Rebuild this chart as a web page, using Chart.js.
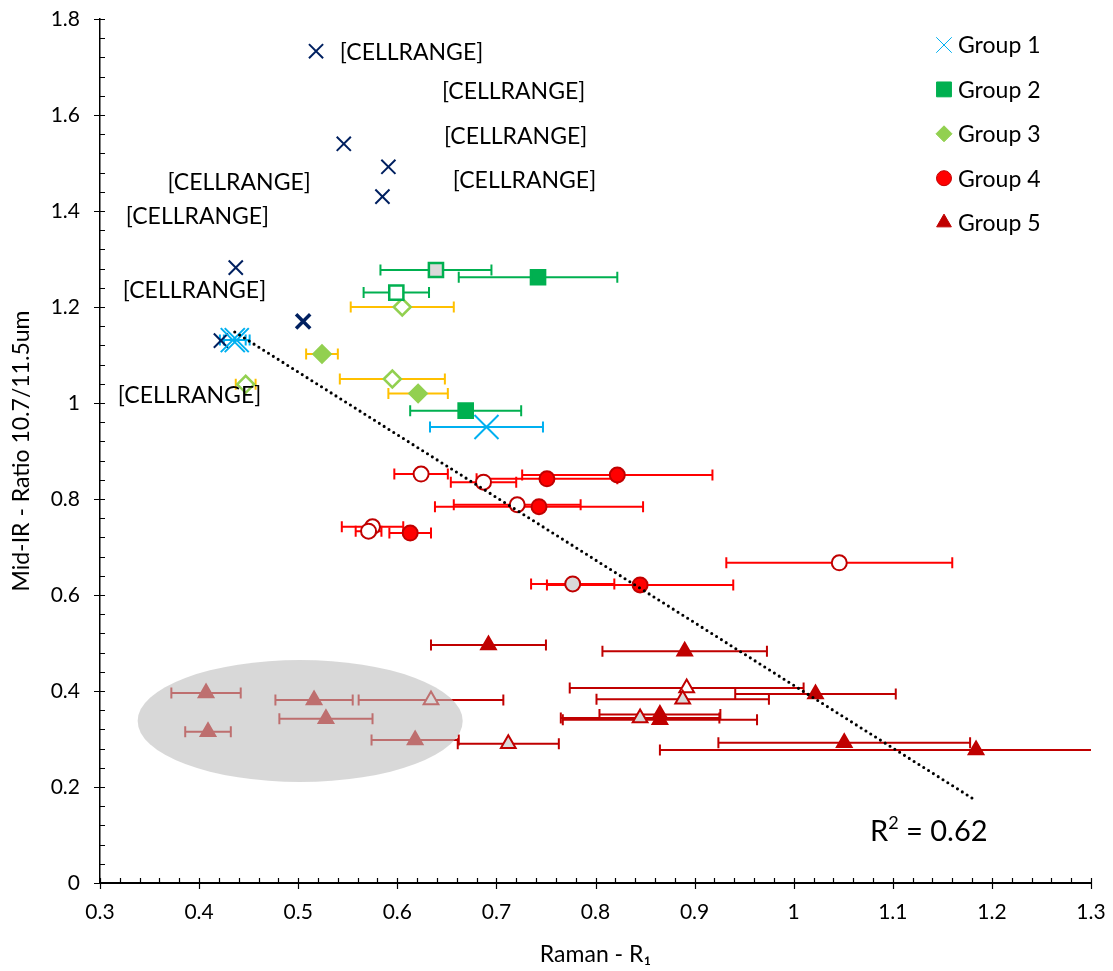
<!DOCTYPE html>
<html>
<head>
<meta charset="utf-8">
<script src="https://cdn.jsdelivr.net/npm/chart.js@4.4.0/dist/chart.umd.min.js"></script>
<style>
  html, body { margin: 0; padding: 0; background: #fff; }
  #c { display: block; }
</style>
</head>
<body>
<canvas id="c" width="1113" height="971"></canvas>
<script>
// unlabelled series (dark blue crosses)
const navyX = [0.518, 0.546, 0.591, 0.585, 0.437, 0.505, 0.422];
const navyY = [1.733, 1.540, 1.492, 1.430, 1.282, 1.170, 1.130];

// Group 1
const g1X = [0.434, 0.438, 0.690];
const g1Y = [1.131, 1.131, 0.950];
const g1Err = [0.013, 0.013, 0.057];

// Group 2
const g2X = [0.639, 0.742, 0.599, 0.669];
const g2Y = [1.277, 1.262, 1.230, 0.984];
const g2Err = [0.056, 0.080, 0.033, 0.056];
const g2Fill = ["grey", "fill", "open", "fill"];

// Group 3
const g3X = [0.605, 0.524, 0.595, 0.621, 0.447];
const g3Y = [1.200, 1.102, 1.050, 1.020, 1.039];
const g3Err = [0.052, 0.016, 0.053, 0.030, 0.010];
const g3Fill = ["open", "fill", "open", "fill", "open"];

// Group 4
const g4X = [0.624, 0.687, 0.751, 0.822, 0.721, 0.743, 0.575, 0.571, 0.613, 0.777, 0.845, 1.046];
const g4Y = [0.852, 0.835, 0.842, 0.850, 0.788, 0.784, 0.742, 0.733, 0.729, 0.623, 0.621, 0.667];
const g4Err = [0.027, 0.033, 0.071, 0.096, 0.064, 0.105, 0.031, 0.013, 0.021, 0.042, 0.094, 0.114];
const g4Fill = ["open", "open", "fill", "fill", "open", "fill", "open", "open", "fill", "grey", "fill", "open"];

// Group 5
const g5X = [0.692, 0.890, 0.892, 0.888, 1.022, 0.845, 0.865, 0.865, 1.051, 1.184, 0.712, 0.407, 0.409, 0.516, 0.528, 0.634, 0.618];
const g5Y = [0.496, 0.483, 0.406, 0.383, 0.394, 0.344, 0.351, 0.340, 0.292, 0.277, 0.290, 0.396, 0.315, 0.381, 0.342, 0.381, 0.298];
const g5Err = [0.058, 0.083, 0.118, 0.087, 0.081, 0.080, 0.061, 0.098, 0.127, 0.319, 0.051, 0.035, 0.023, 0.039, 0.047, 0.073, 0.044];
const g5Fill = ["fill", "fill", "open", "grey", "fill", "grey", "fill", "fill", "fill", "fill", "grey", "fill", "fill", "fill", "fill", "open", "fill"];

// linear trend line and its R2
const trendX = [0.436, 1.183];
const trendY = [1.148, 0.173];
const rSquared = "0.62";

// data labels (cell range placeholders)
const cellLabels = ["[CELLRANGE]", "[CELLRANGE]", "[CELLRANGE]", "[CELLRANGE]", "[CELLRANGE]", "[CELLRANGE]", "[CELLRANGE]", "[CELLRANGE]"];
const cellLabelX = [0.542, 0.645, 0.647, 0.656, 0.368, 0.326, 0.323, 0.318];
const cellLabelY = [1.731, 1.648, 1.556, 1.463, 1.460, 1.388, 1.235, 1.016];

// grey highlight ellipse (centre and radii in axis units)
const ellipseCentre = [0.502, 0.3375];
const ellipseRadii = [0.164, 0.127];

const groupNames = ["Group 1", "Group 2", "Group 3", "Group 4", "Group 5"];

const FONT = "Lato, 'Liberation Sans', sans-serif";

function pts(xs, ys) {
  return xs.map((v, i) => ({ x: v, y: ys[i] }));
}

function fills(list, solid) {
  return list.map((f) => (f === "fill" ? solid : f === "grey" ? "#D9D9D9" : "#FFFFFF"));
}

const datasets = [
  {
    label: "trend",
    type: "line",
    data: pts(trendX, trendY),
    borderColor: "#000",
    borderWidth: 3.1,
    borderDash: [0, 5.7],
    borderCapStyle: "round",
    pointRadius: 0,
    fill: false,
    order: 0
  },
  {
    label: "Group 1",
    data: pts(g1X, g1Y),
    pointStyle: "crossRot",
    pointRadius: 17,
    borderColor: "#00B0F0",
    borderWidth: 2,
    xErr: g1Err,
    errColor: "#00B0F0",
    order: 1
  },
  {
    label: "Group 2",
    data: pts(g2X, g2Y),
    pointStyle: "rect",
    pointRadius: 10,
    borderColor: "#00B050",
    backgroundColor: fills(g2Fill, "#00B050"),
    borderWidth: 2.5,
    xErr: g2Err,
    errColor: "#00B050",
    order: 2
  },
  {
    label: "Group 3",
    data: pts(g3X, g3Y),
    pointStyle: "rectRot",
    pointRadius: 8.5,
    borderColor: "#92D050",
    backgroundColor: fills(g3Fill, "#92D050"),
    borderWidth: 2.5,
    xErr: g3Err,
    errColor: "#FFC000",
    order: 3
  },
  {
    label: "Group 4",
    data: pts(g4X, g4Y),
    pointStyle: "circle",
    pointRadius: 7.5,
    borderColor: "#C00000",
    backgroundColor: fills(g4Fill, "#FF0000"),
    borderWidth: 2,
    xErr: g4Err,
    errColor: "#FF0000",
    order: 4
  },
  {
    label: "Group 5",
    data: pts(g5X, g5Y),
    pointStyle: "triangle",
    pointRadius: 8.5,
    borderColor: "#C00000",
    backgroundColor: fills(g5Fill, "#C00000"),
    borderWidth: 2,
    xErr: g5Err,
    errColor: "#C00000",
    order: 5
  },
  {
    label: "labelled",
    data: pts(navyX, navyY),
    pointStyle: "crossRot",
    pointRadius: 10,
    borderColor: "#002060",
    borderWidth: navyX.map((v, i) => (i === 5 ? 3.5 : 2)),
    order: 6
  }
];

// horizontal error bars, under the markers
const errorBars = {
  id: "errorBars",
  beforeDatasetsDraw(chart) {
    const { ctx, chartArea, scales } = chart;
    ctx.save();
    ctx.beginPath();
    ctx.rect(chartArea.left, chartArea.top, chartArea.width, chartArea.height);
    ctx.clip();
    ctx.lineWidth = 2;
    chart.data.datasets.forEach((ds) => {
      if (!ds.xErr) return;
      ctx.strokeStyle = ds.errColor;
      ds.data.forEach((p, i) => {
        const e = ds.xErr[i];
        const x0 = scales.x.getPixelForValue(p.x - e);
        const x1 = scales.x.getPixelForValue(p.x + e);
        const py = scales.y.getPixelForValue(p.y);
        ctx.beginPath();
        ctx.moveTo(x0, py);
        ctx.lineTo(x1, py);
        ctx.moveTo(x0, py - 5.5);
        ctx.lineTo(x0, py + 5.5);
        ctx.moveTo(x1, py - 5.5);
        ctx.lineTo(x1, py + 5.5);
        ctx.stroke();
      });
    });
    ctx.restore();
  }
};

// ellipse over the low cluster, data labels and R2 text
const overlays = {
  id: "overlays",
  afterDatasetsDraw(chart) {
    const { ctx, scales } = chart;
    const x = scales.x, y = scales.y;
    ctx.save();

    const cx = x.getPixelForValue(ellipseCentre[0]);
    const cy = y.getPixelForValue(ellipseCentre[1]);
    const rx = x.getPixelForValue(ellipseCentre[0] + ellipseRadii[0]) - cx;
    const ry = cy - y.getPixelForValue(ellipseCentre[1] + ellipseRadii[1]);
    ctx.fillStyle = "rgba(189,189,189,0.59)";
    ctx.beginPath();
    ctx.ellipse(cx, cy, rx, ry, 0, 0, Math.PI * 2);
    ctx.fill();

    ctx.fillStyle = "#000";
    ctx.font = "23px " + FONT;
    ctx.textAlign = "left";
    ctx.textBaseline = "middle";
    cellLabels.forEach((t, i) => {
      ctx.fillText(t, x.getPixelForValue(cellLabelX[i]), y.getPixelForValue(cellLabelY[i]));
    });

    // R² = 0.62
    let rx0 = x.getPixelForValue(1.077);
    const ry0 = y.getPixelForValue(0.088);
    ctx.textBaseline = "alphabetic";
    ctx.font = "29px " + FONT;
    ctx.fillText("R", rx0, ry0);
    rx0 += ctx.measureText("R").width;
    ctx.font = "18px " + FONT;
    ctx.fillText("2", rx0, ry0 - 12);
    rx0 += ctx.measureText("2").width;
    ctx.font = "29px " + FONT;
    ctx.fillText(" = " + rSquared, rx0, ry0);
    ctx.restore();
  }
};

// tick marks: majors cross the axis, minors sit inside the plot
const axisTicks = {
  id: "axisTicks",
  afterDraw(chart) {
    const { ctx, chartArea, scales } = chart;
    ctx.save();
    ctx.strokeStyle = "#000";
    ctx.lineWidth = 1.2;
    ctx.beginPath();
    for (let i = 0; i <= 45; i++) {
      const py = Math.round(scales.y.getPixelForValue(i * 0.04)) + 0.5;
      ctx.moveTo(chartArea.left - (i % 5 === 0 ? 6 : 0), py);
      ctx.lineTo(chartArea.left + 5, py);
    }
    for (let i = 0; i <= 50; i++) {
      const px = Math.round(scales.x.getPixelForValue(0.3 + i * 0.02)) + 0.5;
      ctx.moveTo(px, chartArea.bottom + (i % 5 === 0 ? 6 : 0));
      ctx.lineTo(px, chartArea.bottom - 5);
    }
    ctx.stroke();
    ctx.restore();
  }
};

// legend inside the plot, top right
const sideLegend = {
  id: "sideLegend",
  afterDraw(chart) {
    const { ctx, chartArea } = chart;
    const groups = chart.data.datasets.filter((d) => groupNames.includes(d.label));
    const legendRadius = { crossRot: 11, rect: 10.5, rectRot: 8, circle: 7.5, triangle: 8.5 };
    ctx.save();
    groups.forEach((ds, i) => {
      const mx = chartArea.right - 147;
      const my = chartArea.top + 26 + i * 44.4;
      ctx.strokeStyle = ds.borderColor;
      ctx.fillStyle = ds.pointStyle === "circle" ? "#FF0000" : ds.borderColor;
      Chart.helpers.drawPoint(ctx, {
        pointStyle: ds.pointStyle,
        radius: legendRadius[ds.pointStyle],
        rotation: 0,
        borderWidth: ds.pointStyle === "crossRot" ? 2 : 1
      }, mx, my);
      ctx.fillStyle = "#000";
      ctx.font = "23px " + FONT;
      ctx.textAlign = "left";
      ctx.textBaseline = "middle";
      ctx.fillText(ds.label, mx + 14, my + 1);
    });
    ctx.restore();
  }
};

const fmt = (v) => String(Number(v.toFixed(1)));

new Chart(document.getElementById("c"), {
  type: "scatter",
  data: { datasets },
  options: {
    responsive: false,
    animation: false,
    layout: { padding: { top: 19, right: 22, left: 0, bottom: 0 } },
    plugins: { legend: { display: false }, tooltip: { enabled: false } },
    scales: {
      x: {
        min: 0.3,
        max: 1.3,
        afterFit: (s) => { s.height = 88; },
        ticks: { stepSize: 0.1, callback: fmt, color: "#000", padding: 0, font: { family: FONT, size: 21 }, maxRotation: 0 },
        grid: { drawOnChartArea: false, drawTicks: true, tickLength: 17, tickColor: "rgba(0,0,0,0)" },
        border: { color: "#000", width: 2 },
        title: { display: true, text: "Raman - R₁", color: "#000", font: { family: FONT, size: 23 }, padding: { top: 0, bottom: 3 } }
      },
      y: {
        min: 0,
        max: 1.8,
        afterFit: (s) => { s.width = 100; },
        ticks: { stepSize: 0.2, callback: fmt, color: "#000", padding: 0, font: { family: FONT, size: 21 } },
        grid: { drawOnChartArea: false, drawTicks: true, tickLength: 20, tickColor: "rgba(0,0,0,0)" },
        border: { color: "#000", width: 1.5 },
        title: { display: true, text: "Mid-IR - Ratio 10.7/11.5um", color: "#000", font: { family: FONT, size: 23 }, padding: { top: 8, bottom: 0 } }
      }
    }
  },
  plugins: [errorBars, overlays, axisTicks, sideLegend]
});
</script>
</body>
</html>
